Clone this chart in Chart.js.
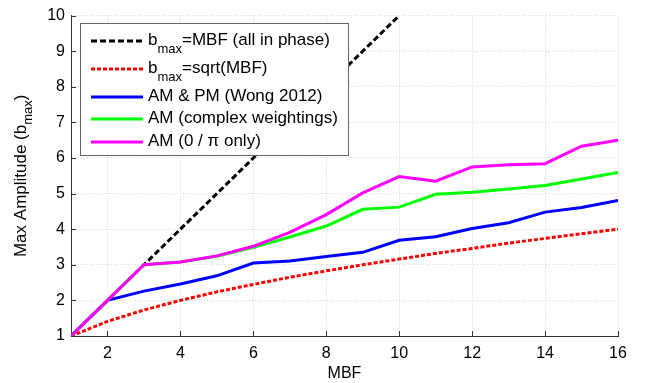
<!DOCTYPE html>
<html>
<head>
<meta charset="utf-8">
<script src="https://cdn.jsdelivr.net/npm/chart.js@4/dist/chart.umd.min.js"></script>
<style>
  html, body { margin: 0; padding: 0; background: #fff; }
  #wrap { width: 647px; height: 383px; }
</style>
</head>
<body>
<div id="wrap"><canvas id="c" width="647" height="383"></canvas></div>
<script>
// data
const mbf = [1, 2, 3, 4, 5, 6, 7, 8, 9, 10, 11, 12, 13, 14, 15, 16];
const allInPhase = [1, 2, 3, 4, 5, 6, 7, 8, 9, 10];
const sqrtMbf = [1, 1.41, 1.73, 2, 2.24, 2.45, 2.65, 2.83, 3, 3.16, 3.32, 3.46, 3.61, 3.74, 3.87, 4];
const wong = [1, 2, 2.26, 2.46, 2.69, 3.05, 3.11, 3.23, 3.35, 3.69, 3.79, 4.02, 4.18, 4.48, 4.61, 4.81];
const complexW = [1, 2, 3, 3.08, 3.24, 3.49, 3.78, 4.09, 4.56, 4.62, 4.98, 5.04, 5.13, 5.23, 5.41, 5.59];
const zeroPi = [1, 2, 3, 3.08, 3.25, 3.52, 3.91, 4.41, 5.02, 5.48, 5.35, 5.75, 5.81, 5.84, 6.33, 6.5];
const xTicks = [2, 4, 6, 8, 10, 12, 14, 16];
const yTicks = [1, 2, 3, 4, 5, 6, 7, 8, 9, 10];

const FONT = "'Liberation Sans', Arial, sans-serif";

function pts(ys) {
    return ys.map((y, i) => ({ x: mbf[i], y: y }));
}

const legendItems = [
    { main: "b", sub: "max", rest: "=MBF (all in phase)", color: "#000", dash: [6, 3] },
    { main: "b", sub: "max", rest: "=sqrt(MBF)", color: "#ff0000", dash: [4, 2] },
    { main: "AM & PM (Wong 2012)", color: "#0000ff", dash: [] },
    { main: "AM (complex weightings)", color: "#00ff00", dash: [] },
    { main: "AM (0 / \u03c0 only)", color: "#ff00ff", dash: [] }
];

// inward ticks, subscripted y title, legend box
const extras = {
    id: "extras",
    afterDraw(chart) {
        const ctx = chart.ctx;
        const a = chart.chartArea;
        const xs = chart.scales.x, ys = chart.scales.y;
        ctx.save();
        ctx.strokeStyle = "#333";
        ctx.lineWidth = 1;
        ctx.beginPath();
        xTicks.forEach(t => {
            const px = Math.round(xs.getPixelForValue(t)) + 0.5;
            ctx.moveTo(px, a.bottom);
            ctx.lineTo(px, a.bottom - 5);
        });
        yTicks.forEach(t => {
            const py = Math.round(ys.getPixelForValue(t)) + 0.5;
            ctx.moveTo(a.left, py);
            ctx.lineTo(a.left + 5, py);
        });
        ctx.stroke();

        // y title
        ctx.fillStyle = "#000";
        ctx.translate(21, (a.top + a.bottom) / 2);
        ctx.rotate(-Math.PI / 2);
        ctx.textBaseline = "middle";
        const p1 = "Max Amplitude (b";
        ctx.font = "13px " + FONT;
        const wSub = ctx.measureText("max").width;
        ctx.font = "17px " + FONT;
        const w1 = ctx.measureText(p1).width;
        const w2 = ctx.measureText(")").width;
        let x0 = -(w1 + wSub + w2) / 2;
        ctx.textAlign = "left";
        ctx.fillText(p1, x0, 0);
        ctx.font = "13px " + FONT;
        ctx.fillText("max", x0 + w1, 7);
        ctx.font = "17px " + FONT;
        ctx.fillText(")", x0 + w1 + wSub, 0);
        ctx.restore();

        // legend
        ctx.save();
        ctx.fillStyle = "#fff";
        ctx.fillRect(80, 23, 268, 132);
        ctx.strokeStyle = "#666";
        ctx.lineWidth = 1;
        ctx.strokeRect(80.5, 23.5, 268, 132);
        const rows = [40, 68, 96, 118, 141];
        legendItems.forEach((it, i) => {
            const y = rows[i];
            ctx.strokeStyle = it.color;
            ctx.lineWidth = 3;
            ctx.setLineDash(it.dash);
            ctx.beginPath();
            ctx.moveTo(91, y + 1);
            ctx.lineTo(143, y + 1);
            ctx.stroke();
            ctx.setLineDash([]);
            ctx.fillStyle = "#000";
            ctx.textBaseline = "middle";
            ctx.textAlign = "left";
            ctx.font = "17px " + FONT;
            let tx = 148;
            ctx.fillText(it.main, tx, y);
            tx += ctx.measureText(it.main).width;
            if (it.sub) {
                ctx.font = "13px " + FONT;
                ctx.fillText(it.sub, tx, y + 9);
                tx += ctx.measureText(it.sub).width;
                ctx.font = "17px " + FONT;
                ctx.fillText(it.rest, tx, y);
            }
        });
        ctx.restore();
    }
};

new Chart(document.getElementById("c"), {
    type: "line",
    data: {
        datasets: [
            {
                label: "AM (0 / \u03c0 only)",
                data: pts(zeroPi),
                borderColor: "#ff00ff",
                borderWidth: 3,
                order: 0
            },
            {
                label: "AM (complex weightings)",
                data: pts(complexW),
                borderColor: "#00ff00",
                borderWidth: 3,
                order: 1
            },
            {
                label: "AM & PM (Wong 2012)",
                data: pts(wong),
                borderColor: "#0000ff",
                borderWidth: 3,
                order: 2
            },
            {
                label: "bmax=sqrt(MBF)",
                data: pts(sqrtMbf),
                borderColor: "#ff0000",
                borderWidth: 3,
                borderDash: [4, 2],
                order: 3
            },
            {
                label: "bmax=MBF (all in phase)",
                data: pts(allInPhase),
                borderColor: "#000000",
                borderWidth: 3,
                borderDash: [6, 3],
                order: 4
            }
        ]
    },
    options: {
        responsive: false,
        animation: false,
        events: [],
        layout: { padding: { left: 0, right: 29, top: 15, bottom: 0 } },
        elements: {
            point: { radius: 0 },
            line: { tension: 0, borderCapStyle: "butt" }
        },
        plugins: {
            legend: { display: false },
            tooltip: { enabled: false }
        },
        scales: {
            x: {
                type: "linear",
                min: 1,
                max: 16,
                afterBuildTicks: s => { s.ticks = xTicks.map(v => ({ value: v })); },
                afterFit: s => { s.height = 47; },
                grid: { color: "#d4d4d4", drawTicks: false },
                border: { display: true, color: "#333", width: 1, dash: [1, 2] },
                ticks: { color: "#000", padding: 8, font: { family: FONT, size: 16 }, maxRotation: 0 },
                title: { display: true, text: "MBF", color: "#000", padding: 0, font: { family: FONT, size: 16 } }
            },
            y: {
                type: "linear",
                min: 1,
                max: 10,
                afterBuildTicks: s => { s.ticks = yTicks.map(v => ({ value: v })); },
                afterFit: s => { s.width = 71; },
                grid: { color: "#d4d4d4", drawTicks: false },
                border: { display: true, color: "#333", width: 1, dash: [1, 2] },
                ticks: { color: "#000", padding: 6, font: { family: FONT, size: 16 } }
            }
        }
    },
    plugins: [extras]
});
</script>
</body>
</html>
